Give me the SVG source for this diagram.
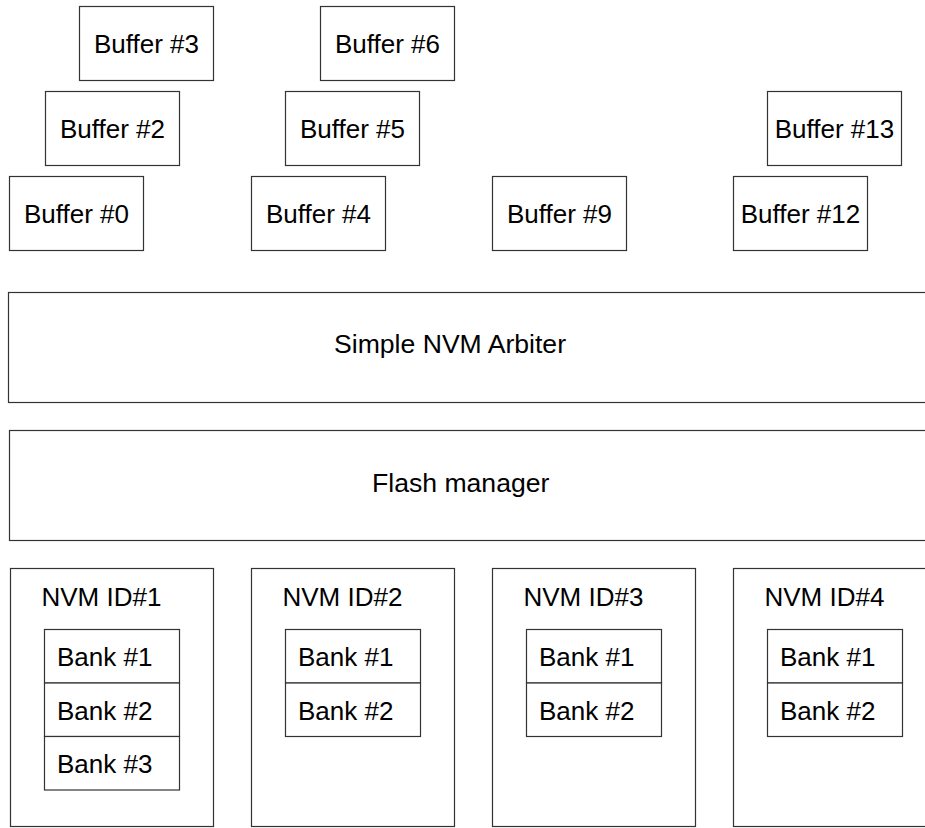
<svg xmlns="http://www.w3.org/2000/svg" width="925" height="828" viewBox="0 0 925 828">
  <style>
    rect { fill: #ffffff; stroke: #333333; stroke-width: 1.2; }
    text { font-family: "Liberation Sans", Arial, sans-serif; font-size: 26px; fill: #000000; }
    .c { text-anchor: middle; }
    .wide { font-size: 26.6px; }
  </style>
  <rect x="0" y="0" width="925" height="828" style="stroke:none"/>

  <!-- buffers -->
  <g id="buffer-3"><rect x="79.5" y="6.5" width="134" height="74"/><text class="c" x="146.5" y="53.3">Buffer #3</text></g>
  <g id="buffer-6"><rect x="320.5" y="6.5" width="134" height="74"/><text class="c" x="387.5" y="53.3">Buffer #6</text></g>
  <g id="buffer-2"><rect x="45.5" y="91.5" width="134" height="74"/><text class="c" x="112.5" y="138.3">Buffer #2</text></g>
  <g id="buffer-5"><rect x="285.5" y="91.5" width="134" height="74"/><text class="c" x="352.5" y="138.3">Buffer #5</text></g>
  <g id="buffer-13"><rect x="767.5" y="91.5" width="134" height="74"/><text class="c" x="834.5" y="138.3">Buffer #13</text></g>
  <g id="buffer-0"><rect x="9.5" y="176.5" width="134" height="74"/><text class="c" x="76.5" y="223.3">Buffer #0</text></g>
  <g id="buffer-4"><rect x="251.5" y="176.5" width="134" height="74"/><text class="c" x="318.5" y="223.3">Buffer #4</text></g>
  <g id="buffer-9"><rect x="492.5" y="176.5" width="134" height="74"/><text class="c" x="559.5" y="223.3">Buffer #9</text></g>
  <g id="buffer-12"><rect x="733.5" y="176.5" width="134" height="74"/><text class="c" x="800.5" y="223.3">Buffer #12</text></g>

  <!-- shared layers -->
  <g id="arbiter"><rect x="8.5" y="292.5" width="930" height="110"/><text class="wide" x="334" y="353.3">Simple NVM Arbiter</text></g>
  <g id="flash-manager"><rect x="9.5" y="430.5" width="930" height="110"/><text class="wide" x="372" y="491.7">Flash manager</text></g>

  <!-- NVM devices -->
  <g id="nvm-1">
    <rect x="10.5" y="568.5" width="203" height="258"/>
    <text x="41.5" y="606">NVM ID#1</text>
    <rect x="44.5" y="629.5" width="135" height="53.5"/><text x="57" y="666">Bank #1</text>
    <rect x="44.5" y="683" width="135" height="53.5"/><text x="57" y="719.5">Bank #2</text>
    <rect x="44.5" y="736.5" width="135" height="53.5"/><text x="57" y="773">Bank #3</text>
  </g>
  <g id="nvm-2">
    <rect x="251.5" y="568.5" width="203" height="258"/>
    <text x="282.5" y="606">NVM ID#2</text>
    <rect x="285.5" y="629.5" width="135" height="53.5"/><text x="298" y="666">Bank #1</text>
    <rect x="285.5" y="683" width="135" height="53.5"/><text x="298" y="719.5">Bank #2</text>
  </g>
  <g id="nvm-3">
    <rect x="492.5" y="568.5" width="203" height="258"/>
    <text x="523.5" y="606">NVM ID#3</text>
    <rect x="526.5" y="629.5" width="135" height="53.5"/><text x="539" y="666">Bank #1</text>
    <rect x="526.5" y="683" width="135" height="53.5"/><text x="539" y="719.5">Bank #2</text>
  </g>
  <g id="nvm-4">
    <rect x="733.5" y="568.5" width="203" height="258"/>
    <text x="764.5" y="606">NVM ID#4</text>
    <rect x="767.5" y="629.5" width="135" height="53.5"/><text x="780" y="666">Bank #1</text>
    <rect x="767.5" y="683" width="135" height="53.5"/><text x="780" y="719.5">Bank #2</text>
  </g>

  <g id="connectors"></g>
</svg>
